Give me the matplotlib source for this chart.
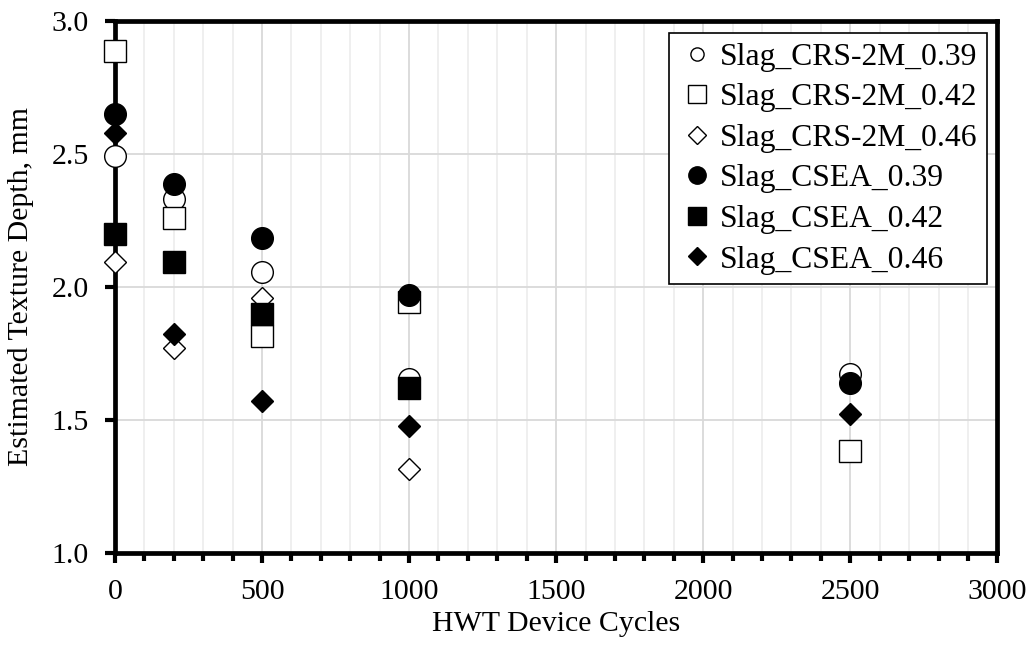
import numpy as np
import matplotlib
matplotlib.use("Agg")
import matplotlib.pyplot as plt
from matplotlib.ticker import MultipleLocator

plt.rcParams['font.family'] = ['Liberation Serif', 'DejaVu Serif']

# Dados
ciclos_a = [0, 200, 500, 1000, 2500]
ciclos_b = [0, 200, 500, 1000]

crs_039 = [2.49, 2.33, 2.055, 1.653, 1.674]
crs_042 = [2.885, 2.26, 1.815, 1.943, 1.383]
crs_046 = [2.092, 1.77, 1.958, 1.315]
csea_039 = [2.648, 2.386, 2.183, 1.969, 1.637]
csea_042 = [2.20, 2.094, 1.897, 1.621]
csea_046 = [2.577, 1.822, 1.57, 1.478, 1.524]

series = [
    ("Slag_CRS-2M_0.39", ciclos_a, crs_039, 'o', 'white'),
    ("Slag_CRS-2M_0.42", ciclos_a, crs_042, 's', 'white'),
    ("Slag_CRS-2M_0.46", ciclos_b, crs_046, 'D', 'white'),
    ("Slag_CSEA_0.39", ciclos_a, csea_039, 'o', 'black'),
    ("Slag_CSEA_0.42", ciclos_b, csea_042, 's', 'black'),
    ("Slag_CSEA_0.46", ciclos_a, csea_046, 'D', 'black'),
]
# tamanho dos marcadores na legenda (pt)
leg_ms = [9.5, 12.5, 9.0, 12.5, 12.5, 9.5]

fig = plt.figure(figsize=(10.32, 6.49), dpi=100)
ax = fig.add_axes([0.1114, 0.148, 0.855, 0.820])

for nome, x, y, m, cor in series:
    ms = 11.0 if m == 'D' else 15.6
    ax.plot(x, y, linestyle='none', marker=m, markersize=ms,
            markerfacecolor=cor, markeredgecolor='black',
            markeredgewidth=1.0, label=nome, clip_on=False, zorder=3)

ax.set_xlim(0, 3000)
ax.set_ylim(1.0, 3.0)
ax.xaxis.set_major_locator(MultipleLocator(500))
ax.xaxis.set_minor_locator(MultipleLocator(100))
ax.yaxis.set_major_locator(MultipleLocator(0.5))
ax.yaxis.set_major_formatter(matplotlib.ticker.FormatStrFormatter('%.1f'))

ax.grid(True, which='major', color='#d9d9d9', linewidth=1.3, zorder=0)
ax.grid(True, which='minor', axis='x', color='#eeeeee', linewidth=1.3, zorder=0)
ax.set_axisbelow(True)

for s in ax.spines.values():
    s.set_linewidth(3.4)
    s.set_color('black')

ax.tick_params(axis='both', which='major', direction='out', length=7, width=3,
               labelsize=21.5, pad=12)
ax.tick_params(axis='x', which='minor', direction='out', length=6, width=3)

ax.set_xlabel("HWT Device Cycles", fontsize=21.5)
ax.set_ylabel("Estimated Texture Depth, mm", fontsize=21.5)
ax.xaxis.set_label_coords(0.5, -0.11)
ax.yaxis.set_label_coords(-0.092, 0.5)

leg = ax.legend(loc='upper right', bbox_to_anchor=(0.988, 0.977), fontsize=22.8,
                frameon=True, fancybox=False, edgecolor='black',
                handletextpad=0.1, handlelength=1.2, labelspacing=0.36,
                borderpad=0.3, borderaxespad=0)
for h, tam in zip(leg.legend_handles, leg_ms):
    h.set_markersize(tam)
leg.get_frame().set_linewidth(1.2)
leg.get_frame().set_alpha(1)

fig.savefig("out.png", dpi=100)
